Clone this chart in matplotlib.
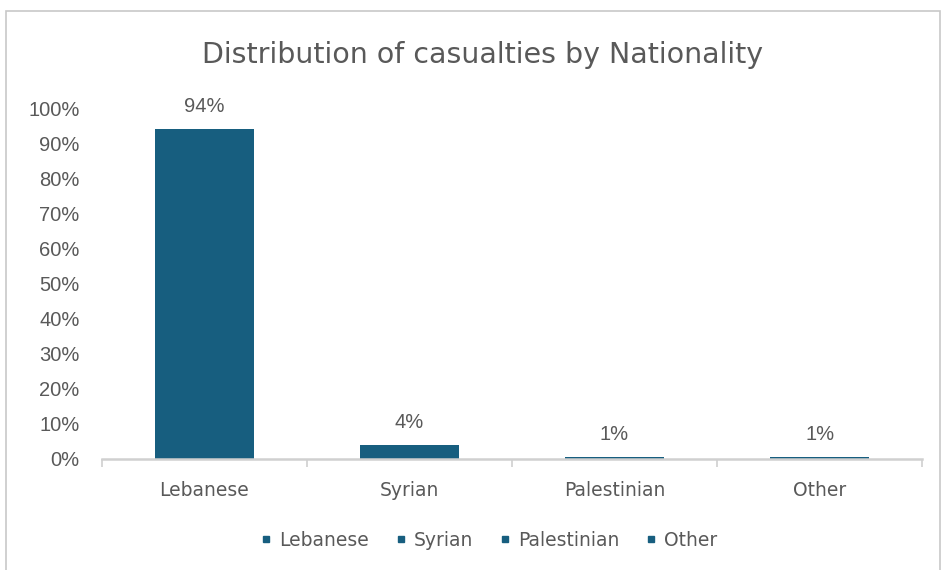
import numpy as np
import matplotlib
matplotlib.use("Agg")
import matplotlib.pyplot as plt
from matplotlib.patches import Rectangle
from matplotlib.lines import Line2D

categories = ["Lebanese", "Syrian", "Palestinian", "Other"]
shares = [94, 4, 0.6, 0.6]
yticks = list(range(0, 101, 10))

BAR = "#175E7F"
TXT = "#595959"
AXIS = "#D0D0D0"
ARIAL = ["Liberation Sans", "DejaVu Sans"]

fig = plt.figure(figsize=(9.42, 5.7), dpi=100)
fig.patch.set_facecolor("white")

# light frame around the chart area
fig.patches.append(Rectangle((6 / 942, -0.01), 934 / 942, 1 - 11 / 570 + 0.01,
                             transform=fig.transFigure, fill=False,
                             edgecolor="#C8C8C8", linewidth=1.2))

ax = fig.add_axes([0.108, 0.195, 0.871, 0.6155])
x = np.arange(len(categories))
ax.bar(x, shares, width=0.48, color=BAR, zorder=2)

for xi, v in zip(x, shares):
    ax.text(xi, v + 6.3, f"{v:.0f}%", ha="center", va="center",
            fontsize=14.5, color=TXT, family=ARIAL)

ax.set_xlim(-0.5, len(categories) - 0.5)
ax.set_ylim(0, 100)
ax.set_yticks(yticks)
ax.set_yticklabels([f"{t}%" for t in yticks], fontsize=14.5, color=TXT,
                   family=ARIAL)
ax.tick_params(axis="y", length=0, pad=16)

ax.set_xticks(x)
ax.set_xticklabels(categories, fontsize=13.5, color=TXT)
ax.tick_params(axis="x", length=0, pad=16)
# category separator ticks
ax.set_xticks(np.arange(-0.5, len(categories)), minor=True)
ax.tick_params(axis="x", which="minor", length=6, color=AXIS, width=1.2)

for s in ["top", "right", "left"]:
    ax.spines[s].set_visible(False)
ax.spines["bottom"].set_color(AXIS)
ax.spines["bottom"].set_linewidth(1.8)
ax.spines["bottom"].set_zorder(3)

fig.text(0.512, 0.903, "Distribution of casualties by Nationality",
         ha="center", va="center", fontsize=20.5, color=TXT)

handles = [Line2D([], [], marker="s", linestyle="none", markersize=5,
                  color=BAR) for _ in categories]
fig.legend(handles, categories, loc="center", bbox_to_anchor=(0.516, 0.052),
           ncol=4, frameon=False, handletextpad=0.1, columnspacing=1.1,
           handlelength=1.2, prop={"size": 13.5}, labelcolor=TXT)

fig.savefig("out.png", dpi=100)
